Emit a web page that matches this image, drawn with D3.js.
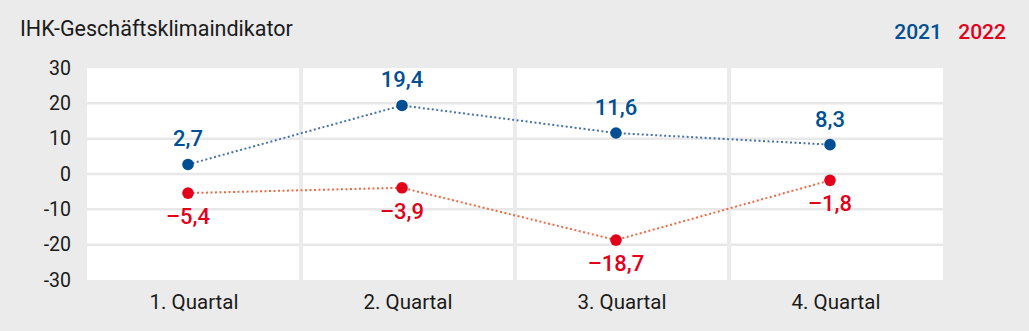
<!DOCTYPE html>
<html>
<head>
<meta charset="utf-8">
<script src="https://cdn.jsdelivr.net/npm/d3@7"></script>
<style>
  html, body { margin: 0; padding: 0; background: #ebebeb; }
  svg { display: block; }
  text { font-family: Roboto, "Liberation Sans", Arial, sans-serif; }
</style>
</head>
<body>
<svg id="chart" width="1029" height="331"></svg>
<script>
// Quarterly business climate indicator, 2021 vs 2022
const categories = ["1. Quartal", "2. Quartal", "3. Quartal", "4. Quartal"];
const values2021 = [2.7, 19.4, 11.6, 8.3];
const values2022 = [-5.4, -3.9, -18.7, -1.8];
const yTicks = [30, 20, 10, 0, -10, -20, -30];
const seriesNames = ["2021", "2022"];

const W = 1029, H = 331;
const margin = { top: 68, right: 86, bottom: 51, left: 87 };
const blue = "#004f94", blueLine = "#4a72aa";
const red = "#e2001a", redLine = "#ea6a45";
const FONT = "Roboto, 'Liberation Sans', Arial, sans-serif";

const svg = d3.select("#chart");
svg.append("rect").attr("width", W).attr("height", H).attr("fill", "#ebebeb");

const x = d3.scaleBand().domain(categories).range([margin.left, W - margin.right]);
const y = d3.scaleLinear().domain([-30, 30]).range([H - margin.bottom, margin.top]);

// white plot area
svg.append("rect")
  .attr("x", x.range()[0]).attr("y", y(30))
  .attr("width", x.range()[1] - x.range()[0]).attr("height", y(-30) - y(30))
  .attr("fill", "#ffffff");

// horizontal grid lines
svg.append("g").selectAll("line").data(yTicks.filter(d => d !== 30 && d !== -30)).join("line")
  .attr("x1", x.range()[0]).attr("x2", x.range()[1])
  .attr("y1", d => y(d)).attr("y2", d => y(d))
  .attr("stroke", "#e8e8e8").attr("stroke-width", 2.5);

// vertical separators between quarters
svg.append("g").selectAll("line").data(categories.slice(1)).join("line")
  .attr("x1", d => x(d)).attr("x2", d => x(d))
  .attr("y1", y(30)).attr("y2", y(-30))
  .attr("stroke", "#ebebeb").attr("stroke-width", 4);

// y axis labels
const yAxis = d3.axisLeft(y).tickValues(yTicks).tickSize(0).tickPadding(0)
  .tickFormat(d => String(d));
svg.append("g").attr("transform", `translate(${margin.left - 16},0)`).call(yAxis)
  .call(g => g.select(".domain").remove())
  .selectAll("text")
  .attr("font-size", 19.5).attr("fill", "#1a1a1a").attr("font-family", FONT);

// x axis labels
const xAxis = d3.axisBottom(x).tickSize(0).tickPadding(0);
svg.append("g").attr("transform", `translate(0,${H - margin.bottom + 14})`).call(xAxis)
  .call(g => g.select(".domain").remove())
  .selectAll("text")
  .attr("font-size", 20.5).attr("fill", "#1a1a1a").attr("font-family", FONT);

// title and legend
svg.append("text").attr("x", 20).attr("y", 36)
  .attr("font-size", 21.5).attr("fill", "#1a1a1a").text("IHK-Geschäftsklimaindikator");
svg.append("text").attr("x", 942).attr("y", 39).attr("text-anchor", "end")
  .attr("font-size", 21).attr("font-weight", 500).attr("fill", blue).text(seriesNames[0]);
svg.append("text").attr("x", 1006).attr("y", 39).attr("text-anchor", "end")
  .attr("font-size", 21).attr("font-weight", 500).attr("fill", red).text(seriesNames[1]);

const px = d => x(d) + x.bandwidth() / 2 - 6;
const fmt = v => (v < 0 ? "\u2013" : "") + Math.abs(v).toFixed(1).replace(".", ",");

function drawSeries(vals, lineColor, dotColor, above) {
  const data = categories.map((c, i) => ({ c, v: vals[i] }));
  svg.append("path").datum(data)
    .attr("d", d3.line().x(d => px(d.c)).y(d => y(d.v)))
    .attr("fill", "none").attr("stroke", lineColor)
    .attr("stroke-width", 2).attr("stroke-dasharray", "2,2.5");
  svg.append("g").selectAll("circle").data(data).join("circle")
    .attr("cx", d => px(d.c)).attr("cy", d => y(d.v)).attr("r", 5.8)
    .attr("fill", dotColor);
  svg.append("g").selectAll("text").data(data).join("text")
    .attr("x", d => px(d.c)).attr("y", d => y(d.v) + (above ? -18 : 31))
    .attr("text-anchor", "middle").attr("font-size", 22).attr("font-weight", 500)
    .attr("fill", dotColor).text(d => fmt(d.v));
}

drawSeries(values2021, blueLine, blue, true);
drawSeries(values2022, redLine, red, false);
</script>
</body>
</html>
